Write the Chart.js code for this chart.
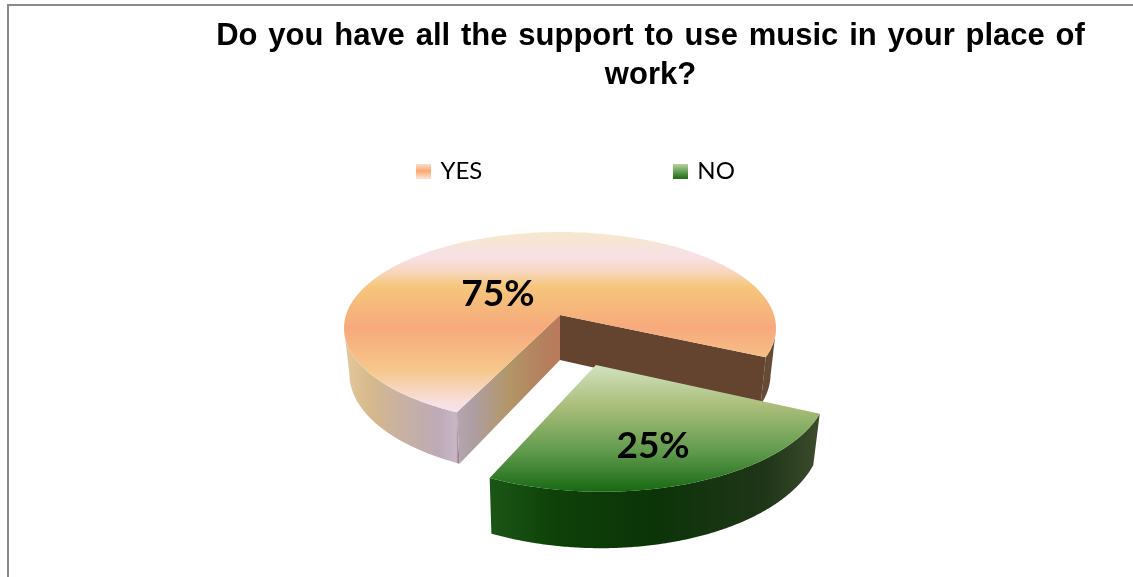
<!DOCTYPE html>
<html>
<head>
<meta charset="utf-8">
<title>Music support at work</title>
<script src="https://cdn.jsdelivr.net/npm/chart.js@4"></script>
<style>
    html, body { margin: 0; padding: 0; background: #fff; overflow: hidden; }
    #frame { position: absolute; left: 7px; top: 4px; right: 0; bottom: 0;
             border-top: 2px solid #8a8a8a; border-left: 2px solid #8a8a8a; }
    canvas { position: absolute; left: 0; top: 0; }
</style>
</head>
<body>
<div id="frame"></div>
<canvas id="pieChart" width="1133" height="577"></canvas>
<script>
const titleLines = ['Do you have all the support to use music in your place of', 'work?'];
const categories = ['YES', 'NO'];
const shares = [75, 25];

// tilted disc: the pie's unit circle is pushed through a perspective projection
const view = { x: 560, y: 315, rx: 214, ry: 94.2, tilt: 0.1355, depth: 45, taper: 0.025 };
const explode = [                    // how far a slice is pulled out, in radii
    { r: 0, deg: 0 },
    { r: 0.52, deg: 72.5 }
];
const labelSpot = [                  // label position inside each slice, in radii
    { r: 0.374, deg: 217 },
    { r: 0.705, deg: 72.7 }
];

function project(u, v, h) {
    const den = 1 - view.tilt * v;
    return [
        view.x + view.rx * u / den * (1 - view.taper * h),
        view.y + (view.ry * v + view.depth * h) / den
    ];
}

function polar(spot) {
    const a = spot.deg * Math.PI / 180;
    return [spot.r * Math.cos(a), spot.r * Math.sin(a)];
}

function arcAngles(arc) {
    const list = [];
    const steps = 180;
    for (let i = 0; i <= steps; i++) {
        list.push(arc.startAngle + (arc.endAngle - arc.startAngle) * i / steps);
    }
    return list;
}

function edgePoints(angles, ox, oy, h) {
    return angles.map(a => project(ox + Math.cos(a), oy + Math.sin(a), h));
}

function fillPoly(ctx, pts, style) {
    ctx.beginPath();
    pts.forEach((p, i) => i ? ctx.lineTo(p[0], p[1]) : ctx.moveTo(p[0], p[1]));
    ctx.closePath();
    ctx.fillStyle = style;
    ctx.fill();
}

function gradient(ctx, x0, y0, x1, y1, stops) {
    const g = ctx.createLinearGradient(x0, y0, x1, y1);
    stops.forEach(s => g.addColorStop(s[0], s[1]));
    return g;
}

const sliceStyles = [
    {
        top: [[0, '#f6e8cc'], [0.138, '#f8e0e6'], [0.21, '#f8d8c4'], [0.304, '#f5c67b'], [0.53, '#f7a97c'],
              [0.762, '#f6c78a'], [0.945, '#f8dfe0'], [1, '#f6e2e8']],
        rim: [[0, '#e6c89e'], [0.06, '#d6b98c'], [0.13, '#c9b1a1'], [0.22, '#bdaab6'], [0.26, '#c9b7c8'],
              [0.27, '#654a35'], [1, '#654a35']],
        wallNear: '#64432f',
        wallFar: [[0, '#b5a5b0'], [0.15, '#ae9ea4'], [0.5, '#b29668'], [0.85, '#b57f5e'], [1, '#bb7a5c']]
    },
    {
        top: [[0, '#d2e2bf'], [0.33, '#a9bd79'], [0.69, '#5f9a4c'], [0.98, '#1c6c16'], [1, '#176614']],
        rim: [[0, '#1b5616'], [0.2, '#0e4108'], [0.5, '#0c3408'], [0.83, '#1f3518'], [1, '#3c4c2c']]
    }
];

function drawSlice(ctx, arc, i) {
    const style = sliceStyles[i];
    const off = polar(explode[i]);
    const angles = arcAngles(arc);
    const topEdge = edgePoints(angles, off[0], off[1], 0);
    const lowEdge = edgePoints(angles, off[0], off[1], 1);
    const apexTop = project(off[0], off[1], 0);
    const apexLow = project(off[0], off[1], 1);
    const xs = topEdge.map(p => p[0]).concat(apexTop[0]);
    const ys = topEdge.map(p => p[1]).concat(apexTop[1]);
    const rimFill = gradient(ctx, Math.min(...xs), 0, Math.max(...xs), 0, style.rim);

    // outer rim: only the runs facing the viewer, cut where the side silhouette turns away
    let run = [];
    const flushRun = () => {
        if (run.length > 1) {
            fillPoly(ctx, run.map(k => topEdge[k]).concat(run.map(k => lowEdge[k]).reverse()), rimFill);
        }
        run = [];
    };
    angles.forEach((a, k) => {
        if (Math.sin(a) >= view.tilt) run.push(k);
        else flushRun();
    });
    flushRun();

    // the two cut faces only show on the slice that has its back to the gap
    if (style.wallFar) {
        const first = topEdge[0], last = topEdge[topEdge.length - 1];
        fillPoly(ctx, [apexTop, last, lowEdge[lowEdge.length - 1], apexLow], style.wallNear);
        fillPoly(ctx, [apexTop, first, lowEdge[0], apexLow],
            gradient(ctx, first[0], 0, apexTop[0], 0, style.wallFar));
    }

    fillPoly(ctx, [apexTop].concat(topEdge),
        gradient(ctx, 0, Math.min(...ys), 0, Math.max(...ys), style.top));
}

function drawLabel(ctx, i, total) {
    const off = polar(explode[i]);
    const spot = polar(labelSpot[i]);
    const p = project(off[0] + spot[0], off[1] + spot[1], 0);
    ctx.fillStyle = '#000';
    ctx.font = 'bold 37px Lato';
    ctx.textAlign = 'center';
    ctx.textBaseline = 'middle';
    ctx.fillText(Math.round(shares[i] / total * 100) + '%', p[0], p[1]);
}

const pie3d = {
    id: 'pie3d',
    afterLayout(chart) {
        // the legend sits left of the title, with a wide gap between its two entries
        const legend = chart.legend;
        const pad = legend.options.labels.padding;
        legend.left = 418.5 - pad;
        legend.right = legend.left + legend.width;
        legend.top = 159 - pad;
    },
    beforeDraw(chart) {
        chart.ctx.wordSpacing = '2.2px';
    },
    beforeDatasetsDraw(chart) {
        const ctx = chart.ctx;
        const arcs = chart.getDatasetMeta(0).data;
        const total = shares.reduce((a, b) => a + b, 0);
        ctx.save();
        ctx.wordSpacing = '0px';
        arcs.forEach((arc, i) => drawSlice(ctx, arc, i));
        arcs.forEach((arc, i) => drawLabel(ctx, i, total));
        ctx.restore();
        return false;
    }
};

function swatch(stops) {
    const c = document.createElement('canvas');
    c.width = 15;
    c.height = 15;
    const g = c.getContext('2d');
    g.fillStyle = gradient(g, 0, 0, 0, 15, stops);
    g.fillRect(0, 0, 15, 15);
    return c;
}

const swatches = [
    swatch([[0, '#fce3d6'], [0.5, '#f9a96e'], [1, '#fce3d6']]),
    swatch([[0, '#bcd6a0'], [1, '#1e6d17']])
];

new Chart(document.getElementById('pieChart'), {
    type: 'pie',
    data: {
        labels: categories,
        datasets: [{ data: shares, backgroundColor: ['#f7a97c', '#5f9a4c'], borderWidth: 0 }]
    },
    plugins: [pie3d],
    options: {
        responsive: false,
        animation: false,
        rotation: 205,
        layout: { padding: { left: 168 } },
        plugins: {
            tooltip: { enabled: false },
            title: {
                display: true,
                text: titleLines,
                color: '#000',
                font: { family: '"Liberation Sans"', size: 31, weight: 'bold', lineHeight: 1.26 },
                padding: { top: 17, bottom: 0 }
            },
            legend: {
                position: 'top',
                align: 'start',
                labels: {
                    color: '#1a1a1a',
                    font: { family: 'Lato', size: 24 },
                    boxWidth: 10,
                    usePointStyle: true,
                    padding: 193,
                    generateLabels: () => categories.map((name, i) => ({
                        text: name,
                        pointStyle: swatches[i],
                        fillStyle: 'transparent',
                        strokeStyle: 'transparent',
                        lineWidth: 0,
                        index: i
                    }))
                }
            }
        }
    }
});
</script>
</body>
</html>
